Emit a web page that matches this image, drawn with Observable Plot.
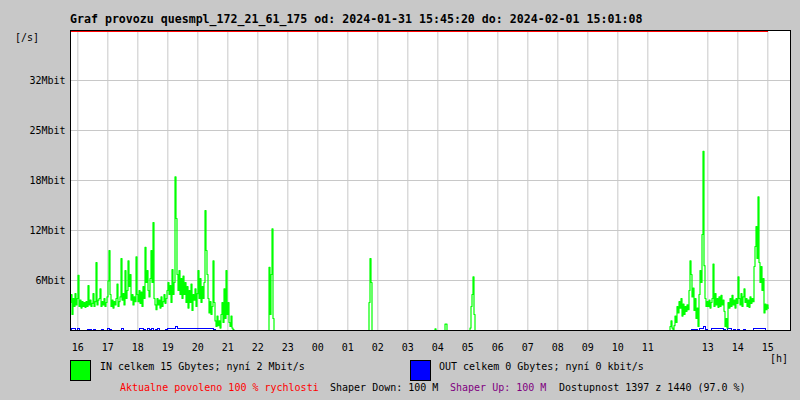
<!DOCTYPE html>
<html>
<head>
<meta charset="utf-8">
<script src="https://cdn.jsdelivr.net/npm/d3@7"></script>
<script src="https://cdn.jsdelivr.net/npm/@observablehq/plot@0.6"></script>
<style>
  html, body { margin: 0; padding: 0; background: #c8c8c8; }
  #wrap { position: relative; width: 800px; height: 400px; background: #c8c8c8; font-family: "DejaVu Sans Mono", monospace; overflow: hidden; }
  #wrap svg { position: absolute; left: 0; top: 0; }
  .t { position: absolute; font-size: 10px; line-height: 10px; white-space: pre; color: #000; }
  .title { font-size: 11.6px; line-height: 12px; font-weight: bold; }
  .sq { position: absolute; width: 19px; height: 19px; border: 1px solid #000; }
</style>
</head>
<body>
<div id="wrap">
  <div id="chart"></div>
  <div class="t title" style="left:70px;top:13px">Graf provozu quesmpl_172_21_61_175 od: 2024-01-31 15:45:20 do: 2024-02-01 15:01:08</div>
  <div class="t" style="left:15px;top:33px">[/s]</div>
  <div class="t" style="left:770px;top:354px">[h]</div>
  <div class="sq" style="left:70px;top:360px;background:#00ff00"></div>
  <div class="t" style="left:100px;top:362px">IN celkem 15 Gbytes; nyní 2 Mbit/s</div>
  <div class="sq" style="left:410px;top:360px;background:#0000ff"></div>
  <div class="t" style="left:439px;top:362px">OUT celkem 0 Gbytes; nyní 0 kbit/s</div>
  <div class="t" style="left:120px;top:383px;color:#ff0000">Aktualne povoleno 100 % rychlosti</div>
  <div class="t" style="left:330px;top:383px">Shaper Down: 100 M</div>
  <div class="t" style="left:450px;top:383px;color:#800080">Shaper Up: 100 M</div>
  <div class="t" style="left:559px;top:383px">Dostupnost 1397 z 1440 (97.0 %)</div>
</div>
<script>
// ---- data ----
// start of the graph window (clock time) and total span in minutes
const startClock = [15, 45, 20];
const spanMinutes = 1440;
const lastSampleMinute = 1396;

// hour tick labels along x (12 is not shown in the original)
const hourLabels = ["16","17","18","19","20","21","22","23","00","01","02","03","04","05","06","07","08","09","10","11","13","14","15"];

// y ticks (Mbit) and their labels
const yTickValues = [6.25, 12.5, 18.75, 25, 31.25];
const yTickLabels = ["6Mbit","12Mbit","18Mbit","25Mbit","32Mbit"];
const yMax = 37.5;
const capacityLine = 37.375;

// IN traffic bursts (Mbit/s), one value every 2 minutes from the burst start minute
const burstStartMin = [0, 396, 596, 728, 748, 798, 1196];
const inA = [3.5,4.5,2.0,4.0,3.0,4.6,3.2,4.0,6.9,3.0,3.8,2.8,3.6,3.0,3.5,2.9,3.6,3.0,5.6,3.2,
  3.8,3.0,3.4,4.6,3.0,3.6,8.5,3.2,3.8,4.0,5.2,3.0,3.6,3.2,4.0,3.0,3.5,4.2,6.2,10.0,
  4.5,3.0,3.8,2.8,3.6,3.2,4.0,5.8,3.0,3.6,4.2,9.0,3.8,4.6,3.2,7.5,4.0,5.0,8.7,5.5,
  7.0,3.8,4.5,3.2,4.2,3.6,9.2,4.5,3.6,5.0,3.4,4.8,3.0,5.5,4.0,10.4,6.0,7.5,5.0,4.2,
  6.5,10.0,6.0,13.5,4.0,3.2,2.6,4.0,3.2,3.8,2.8,4.2,3.0,3.6,4.5,3.4,4.0,5.0,6.0,4.5,
  5.6,3.5,7.6,4.5,6.0,19.2,14.0,7.0,5.0,7.5,4.5,6.5,4.0,6.8,4.5,6.0,3.5,5.5,2.8,5.0,
  3.5,5.8,2.5,4.5,3.8,5.2,3.0,4.6,7.5,4.0,6.5,3.5,5.5,4.0,6.0,15.0,10.0,7.0,4.0,2.2,
  3.6,2.0,3.0,8.7,3.5,1.2,0.5,1.8,0.6,1.2,0.3,2.0,3.5,1.0,5.2,1.5,7.5,2.0,3.5,1.0,
  0.5,1.8,0.3,0.1,0];
const inB = [0,7.9,2.0,7.0,12.7,1.5,0];
const inC = [0,3.5,9.0,6.0,0];
const inD = [0,0.2,0];
const inE = [0,0.8,0.8,0];
const inF = [0,0.3,3.0,4.5,6.7,2.0,0];
const inG = [0,0,0.5,1.2,0.3,0,0.6,1.8,1.0,3.0,2.2,3.6,2.8,4.0,1.8,3.3,2.0,3.0,2.4,3.2,
  2.6,5.0,8.7,7.0,4.2,5.3,2.5,4.0,1.5,2.8,0.5,4.5,7.5,6.0,12.0,22.4,8.1,4.0,3.0,3.6,
  3.0,3.8,2.8,3.5,4.0,8.3,3.0,4.6,3.2,4.0,2.9,4.2,3.0,4.4,3.2,3.8,2.4,0.5,1.5,0.3,
  3.5,2.8,4.0,3.0,4.4,3.2,3.8,2.8,4.0,3.4,6.7,4.0,3.2,4.6,3.0,4.2,5.2,3.5,4.0,3.0,
  3.8,2.9,4.2,3.4,4.0,3.6,8.0,10.5,13.0,9.0,16.7,8.5,6.0,8.0,5.0,6.5,2.2,3.3,2.6,3.2,
  2.8];
const inBursts = [inA, inB, inC, inD, inE, inF, inG];
const inStepMin = 2;

// OUT traffic (Mbit/s), one value every 4 minutes
const outStartMin = [0, 1196];
const outA = [0,0.2,0.2,0,0.2,0,0,0,0,0.15,0.15,0,0.15,0,0,0,0.15,0,0,0.2,
  0.15,0,0,0,0,0,0.3,0,0,0,0,0,0,0,0,0.2,0.2,0.15,0,0.2,
  0.15,0.2,0,0.15,0.2,0,0,0,0.15,0.2,0.2,0.25,0.25,0.45,0.25,0.2,0.25,0.2,0.25,0.2,
  0.25,0.2,0.2,0.25,0.2,0.3,0.25,0.2,0.3,0.2,0.25,0.2,0.1,0,0,0,0,0,0,0,0,0];
const outG = [0,0,0,0,0,0,0,0,0,0,0,0,0.15,0.15,0.1,0,0.2,0.3,0.5,0.15,
  0,0,0.2,0.2,0.2,0.2,0.2,0.2,0.15,0,0.2,0.2,0,0.15,0,0.15,0,0,0.15,0,
  0,0,0,0.2,0.2,0.2,0.2,0.2,0.2,0,0];
const outSeries = [outA, outG];
const outStepMin = 4;

// ---- build rows ----
const inRows = [];
inBursts.forEach((arr, k) => arr.forEach((v, i) => inRows.push({min: burstStartMin[k] + i * inStepMin, v})));
const outRows = [];
outSeries.forEach((arr, k) => arr.forEach((v, i) => outRows.push({min: outStartMin[k] + i * outStepMin, v})));

const startMin = startClock[0] * 60 + startClock[1] + startClock[2] / 60;
const tickMin = hourLabels.map(h => ((+h * 60 - startMin) + 1440) % 1440);

const grid = "#c8c8c8";

const chart = Plot.plot({
  width: 800,
  height: 400,
  marginLeft: 70,
  marginRight: 10,
  marginTop: 30,
  marginBottom: 70,
  x: {domain: [0, spanMinutes], axis: null},
  y: {domain: [0, yMax], axis: null},
  style: {background: "transparent", fontFamily: "DejaVu Sans Mono", fontSize: "10px", color: "black"},
  marks: [
    Plot.frame({fill: "white", stroke: "none"}),
    Plot.ruleX(tickMin, {stroke: grid}),
    Plot.ruleY(yTickValues, {stroke: grid}),
    Plot.line(outRows, {x: "min", y: "v", stroke: "#0000ff", strokeWidth: 1, curve: "step", shapeRendering: "crispEdges"}),
    Plot.line(inRows, {x: "min", y: "v", stroke: "#00ff00", strokeWidth: 1.2, curve: "step"}),
    Plot.ruleY([capacityLine], {x1: 0, x2: lastSampleMinute, stroke: "#ff0000", strokeWidth: 1.2}),
    Plot.frame({stroke: "black"}),
    Plot.text(yTickValues, {y: d => d, text: (d, i) => yTickLabels[i], frameAnchor: "left", dx: -5, textAnchor: "end"}),
    Plot.text(hourLabels, {x: (d, i) => tickMin[i], text: d => d, frameAnchor: "bottom", dy: 20})
  ]
});
document.getElementById("chart").appendChild(chart);
</script>
</body>
</html>
